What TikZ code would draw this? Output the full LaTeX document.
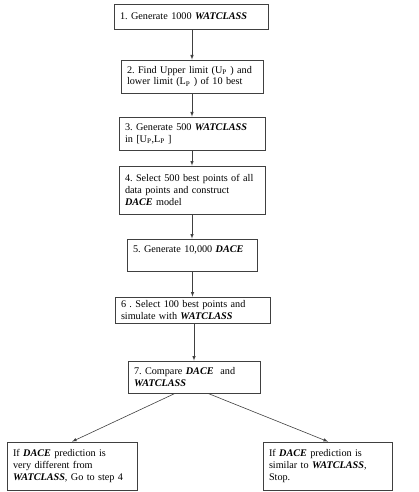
\documentclass[tikz,border=0pt]{standalone}
\usepackage{fontspec}
\setmainfont{Liberation Serif}
\tikzset{>=latex}
\colorlet{mygray}{black!75}
\newcommand{\wc}{\textbf{\textit{WATCLASS}}}
\newcommand{\dc}{\textbf{\textit{DACE}}}
\begin{document}
\frenchspacing
\begin{tikzpicture}[x=1pt,y=-1pt,
    stepbox/.style={draw=mygray,line width=0.8pt,align=left,inner xsep=6pt,inner ysep=0pt,
      font=\fontsize{10.2}{11.8}\selectfont},
    flow/.style={->,mygray,line width=0.6pt}]
\useasboundingbox (0,0) rectangle (419,492);
% main column
\node[stepbox,text width=142pt,minimum height=25pt] (s1) at (191,16.5) {1. Generate 1000 \wc};
\node[stepbox,text width=130pt,minimum height=33pt] (s2) at (192,76.5) {2. Find Upper limit (U\textsubscript{P} ) and\\lower limit (L\textsubscript{P} ) of 10 best};
\node[stepbox,text width=134pt,minimum height=33pt] (s3) at (192,133.5) {3. Generate 500 \wc\\in [U\textsubscript{P},L\textsubscript{P} ]};
\node[stepbox,text width=134pt,minimum height=48pt] (s4) at (192,190) {4. Select 500 best points of all\\data points and construct\\\dc\ model};
\node[stepbox,text width=118pt,minimum height=32pt] (s5) at (192,255) {5. Generate 10,000 \dc\\\mbox{}};
\node[stepbox,text width=143pt,minimum height=26pt] (s6) at (192.5,310) {6 . Select 100 best points and\\simulate with \wc};
\node[stepbox,text width=120pt,minimum height=32pt] (s7) at (194,377) {7. Compare \dc\ \ and\\\wc};
% the two outcomes
\node[stepbox,text width=118pt,minimum height=48pt] (no) at (72,466) {If \dc\ prediction is\\very different from\\\wc, Go to step 4};
\node[stepbox,text width=117pt,minimum height=48pt] (yes) at (327.5,466) {If \dc\ prediction is\\similar to \wc,\\Stop.};
\foreach \a/\b in {s1/s2,s2/s3,s3/s4,s4/s5,s5/s6,s6/s7}
    \draw[flow] (\b.north |- \a.south) -- (\b.north);
\draw[flow] ([xshift=-19pt]s7.south) -- (no.north);
\draw[flow] ([xshift=14pt]s7.south) -- ([xshift=0.5pt]yes.north);
\end{tikzpicture}
\end{document}
